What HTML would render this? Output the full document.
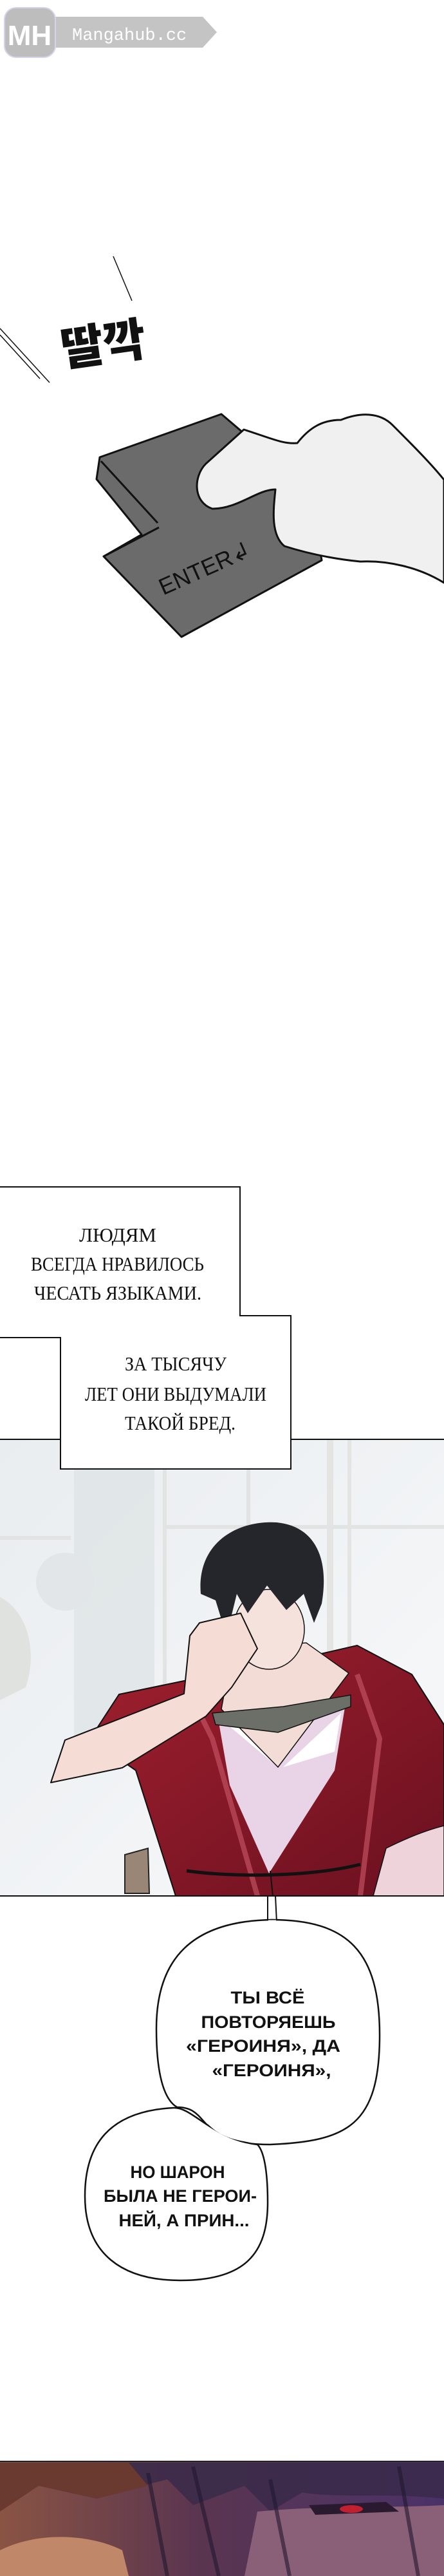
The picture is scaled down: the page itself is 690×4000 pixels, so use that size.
<!DOCTYPE html>
<html><head><meta charset="utf-8"><style>
html,body{margin:0;padding:0;background:#fff;}
svg{display:block;}
.cap{font-family:"Liberation Serif","DejaVu Serif",serif;font-size:31px;fill:#111;}
.bub{font-family:"Liberation Sans","DejaVu Sans",sans-serif;font-weight:bold;font-size:27px;fill:#111;}
</style></head><body>
<svg width="690" height="4000" viewBox="0 0 690 4000" xmlns="http://www.w3.org/2000/svg">
<defs>
<linearGradient id="bg2" x1="0" y1="0" x2="1" y2="1"><stop offset="0" stop-color="#e9edef"/><stop offset="1" stop-color="#f8f9fb"/></linearGradient>
<linearGradient id="bg3" x1="0" y1="0" x2="1" y2="0"><stop offset="0" stop-color="#8a5444"/><stop offset="0.45" stop-color="#5a3550"/><stop offset="1" stop-color="#4a3268"/></linearGradient>
<linearGradient id="robe" x1="0" y1="0" x2="1" y2="1"><stop offset="0" stop-color="#a0202e"/><stop offset="1" stop-color="#6a1020"/></linearGradient>
</defs>
<rect width="690" height="4000" fill="#fff"/>

<!-- logo -->
<path d="M86,26 L315,26 L337,50 L315,74 L86,74 Z" fill="#c4c4c4"/>
<rect x="7" y="12" width="79" height="77" rx="18" fill="#bdbdbd" stroke="#d6d2ee" stroke-width="2"/>
<text x="46" y="70" text-anchor="middle" font-family="Liberation Sans,sans-serif" font-weight="bold" font-size="44" fill="#fff">MH</text>
<text x="112" y="62" font-family="Liberation Mono,monospace" font-size="27" fill="#fff">Mangahub.cc</text>

<!-- sfx -->
<line x1="176" y1="398" x2="205" y2="467" stroke="#111" stroke-width="1.5"/>
<line x1="0" y1="510" x2="77" y2="594" stroke="#111" stroke-width="1.5"/>
<line x1="0" y1="520" x2="62" y2="588" stroke="#111" stroke-width="1.5"/>
<text x="160" y="560" text-anchor="middle" transform="rotate(-8 160 530)" font-family="Noto Sans CJK KR,NanumGothic,sans-serif" font-weight="900" font-size="72" fill="#111">딸깍</text>

<!-- key -->
<path d="M155,710 L344,643 L378,672 L470,700 L500,870 L282,989 L161,864 L220,830 L150,744 Z" fill="#6b6b6b" stroke="#111" stroke-width="3" stroke-linejoin="round"/>
<path d="M157,716 L245,812" stroke="#111" stroke-width="3"/>
<path d="M247,819 L161,864" stroke="#111" stroke-width="3"/>
<text x="317" y="895" text-anchor="middle" transform="rotate(-24 317 880)" font-family="Liberation Sans,sans-serif" font-size="36" fill="#111">ENTER↲</text>
<!-- hand -->
<path d="M379,667 C420,680 440,690 462,688 C480,665 500,652 530,652 C560,640 590,640 610,660 C640,690 670,720 690,745 L690,905 C650,880 600,870 560,872 C520,868 480,860 442,848 C420,830 425,790 428,760 C400,760 370,790 330,790 C300,780 300,740 320,720 Z" fill="#f0f0f0" stroke="#111" stroke-width="3" stroke-linejoin="round"/>

<!-- panel 2 -->
<svg x="0" y="2235" width="690" height="709" viewBox="0 2235 690 709" overflow="hidden">
<rect x="0" y="2235" width="690" height="709" fill="url(#bg2)"/>
<rect x="115" y="2282" width="125" height="440" fill="#dde3e4" opacity="0.7"/>
<rect x="253" y="2282" width="6" height="400" fill="#e2e4e4"/>
<rect x="383" y="2282" width="6" height="400" fill="#e2e4e4"/>
<rect x="508" y="2235" width="10" height="500" fill="#e4e4e2"/>
<rect x="540" y="2235" width="6" height="500" fill="#e4e4e2"/>
<rect x="253" y="2368" width="437" height="6" fill="#e2e4e4"/>
<rect x="0" y="2385" width="110" height="6" fill="#e2e4e4"/>
<circle cx="101" cy="2456" r="45" fill="#e3e6e8"/>
<path d="M0,2480 C40,2500 60,2560 40,2620 L0,2640 Z" fill="#e0e2df"/>
<path d="M194,2880 L230,2870 L232,2940 L194,2940 Z" fill="#9a8676" stroke="#222" stroke-width="2"/>
<path d="M185,2631 L286,2610 L360,2600 L555,2555 L640,2600 L690,2678 L690,2944 L273,2944 L211,2749 L140,2700 Z" fill="url(#robe)" stroke="#111" stroke-width="2"/>
<path d="M300,2640 L330,2700 L400,2944 M555,2600 L590,2700 L560,2944" stroke="#c05060" stroke-width="8" fill="none" opacity="0.7"/>
<path d="M339,2669 L537,2645 L520,2749 L418,2909 L357,2772 Z" fill="#e8d4e6"/>
<path d="M350,2675 L430,2670 L432,2744 Z M440,2744 L530,2660 L520,2720 Z" fill="#fff"/>
<path d="M361,2560 L476,2551 L542,2598 L432,2744 L344,2654 Z" fill="#f3dcd6" stroke="#111" stroke-width="1.5"/>
<path d="M330,2660 L440,2650 L545,2632 L545,2650 L432,2690 L335,2678 Z" fill="#6b6f68" stroke="#111" stroke-width="1.5"/>
<ellipse cx="418" cy="2530" rx="55" ry="62" fill="#f5e2dc" stroke="#111" stroke-width="1.5"/>
<path d="M312,2475 C305,2395 370,2360 430,2364 C490,2370 512,2420 500,2490 L488,2520 L472,2475 L445,2500 L415,2462 L385,2505 L368,2475 L352,2540 L335,2485 Z" fill="#25262c"/>
<path d="M79,2768 L101,2702 L286,2630 L295,2540 L310,2520 L374,2505 L400,2560 L360,2620 L320,2665 L190,2745 Z" fill="#f5ddd6" stroke="#111" stroke-width="2" stroke-linejoin="round"/>
<path d="M600,2870 C640,2850 670,2840 690,2835 L690,2944 L580,2944 Z" fill="#efd3da" stroke="#111" stroke-width="1.5"/>
<path d="M290,2905 C360,2915 480,2915 560,2895" stroke="#111" stroke-width="5" fill="none"/>
<line x1="420" y1="2905" x2="424" y2="2944" stroke="#111" stroke-width="2"/>
</svg>
<line x1="0" y1="2944" x2="690" y2="2944" stroke="#111" stroke-width="2"/>
<line x1="0" y1="2235" x2="690" y2="2235" stroke="#111" stroke-width="2"/>

<!-- caption boxes (on top of panel) -->
<path d="M-2,1843 L373,1843 L373,2043 L452,2043 L452,2281 L94,2281 L94,2077 L-2,2077 Z" fill="#fff" stroke="#111" stroke-width="2"/>
<path d="M-2,2078 L-2,2234 L93,2234 L93,2078 Z" fill="#fff"/>
<path d="M0,2077 L94,2077 L94,2235" fill="none" stroke="#111" stroke-width="2"/>
<text class="cap" x="183" y="1928" text-anchor="middle">ЛЮДЯМ</text>
<text class="cap" x="48" y="1973" textLength="269" lengthAdjust="spacingAndGlyphs">ВСЕГДА НРАВИЛОСЬ</text>
<text class="cap" x="53" y="2018" textLength="260" lengthAdjust="spacingAndGlyphs">ЧЕСАТЬ ЯЗЫКАМИ.</text>
<text class="cap" x="194" y="2128" textLength="158" lengthAdjust="spacingAndGlyphs">ЗА ТЫСЯЧУ</text>
<text class="cap" x="132" y="2175" textLength="282" lengthAdjust="spacingAndGlyphs">ЛЕТ ОНИ ВЫДУМАЛИ</text>
<text class="cap" x="194" y="2220" textLength="172" lengthAdjust="spacingAndGlyphs">ТАКОЙ БРЕД.</text>

<!-- bubbles -->
<path d="M416,2944 L416,2985 M428,2944 L430,2985" stroke="#111" stroke-width="2"/>
<g stroke="#111" stroke-width="2.5" fill="#fff">
<path d="M422,2981 C300,2983 243,3040 243,3150 C243,3230 258,3262 275,3272 C330,3272 300,3330 420,3330 C540,3325 590,3300 590,3160 C590,3030 540,2981 422,2981 Z"/>
<path d="M270,3273 C170,3278 132,3330 132,3410 C132,3500 190,3541 280,3541 C380,3541 416,3500 416,3420 C416,3370 410,3340 400,3330 C330,3322 300,3272 270,3273 Z"/>
</g>
<g fill="#fff">
<path d="M422,2983 C302,2985 245,3040 245,3150 C245,3228 260,3260 276,3270 C330,3270 302,3328 420,3328 C538,3323 588,3298 588,3160 C588,3032 538,2983 422,2983 Z"/>
<path d="M270,3275 C172,3280 134,3330 134,3410 C134,3498 190,3539 280,3539 C378,3539 414,3498 414,3420 C414,3372 408,3342 398,3332 C328,3324 300,3275 270,3275 Z"/>
</g>
<path d="M417,2983 L429,2983" stroke="#fff" stroke-width="3"/>
<text class="bub" x="416" y="3111" text-anchor="middle" textLength="115" lengthAdjust="spacingAndGlyphs">ТЫ ВСЁ</text>
<text class="bub" x="417" y="3149" text-anchor="middle" textLength="209" lengthAdjust="spacingAndGlyphs">ПОВТОРЯЕШЬ</text>
<text class="bub" x="409" y="3186" text-anchor="middle" textLength="240" lengthAdjust="spacingAndGlyphs">«ГЕРОИНЯ», ДА</text>
<text class="bub" x="422" y="3224" text-anchor="middle" textLength="185" lengthAdjust="spacingAndGlyphs">«ГЕРОИНЯ»,</text>
<text class="bub" x="276" y="3382" text-anchor="middle" textLength="147" lengthAdjust="spacingAndGlyphs">НО ШАРОН</text>
<text class="bub" x="280" y="3419" text-anchor="middle" textLength="238" lengthAdjust="spacingAndGlyphs">БЫЛА НЕ ГЕРОИ-</text>
<text class="bub" x="286" y="3457" text-anchor="middle" textLength="203" lengthAdjust="spacingAndGlyphs">НЕЙ, А ПРИН...</text>

<!-- bottom panel -->
<rect x="0" y="3822" width="690" height="178" fill="url(#bg3)"/>
<path d="M0,3824 L690,3824 L690,3880 C600,3870 520,3880 470,3870 L420,3900 L380,3860 L300,3890 L260,3850 L180,3870 L120,3845 L0,3860 Z" fill="#3a2a4a" opacity="0.85"/>
<path d="M0,3824 L200,3824 L230,3860 L150,3880 L60,3860 L0,3900 Z" fill="#6a3a30"/>
<path d="M400,3900 C500,3890 600,3895 690,3890 L690,4000 L380,4000 Z" fill="#8a6078"/>
<path d="M0,3960 C60,3930 140,3935 190,3960 L200,4000 L0,4000 Z" fill="#c08868"/>
<path d="M480,3890 L600,3885 L620,3900 L490,3905 Z" fill="#2a1a30"/>
<ellipse cx="546" cy="3896" rx="18" ry="6" fill="#c02030"/>
<path d="M300,3830 L340,4000 M230,3840 L260,4000 M420,3850 L450,4000 M620,3830 L650,4000" stroke="#221830" stroke-width="6" opacity="0.6"/>
<line x1="0" y1="3822" x2="690" y2="3822" stroke="#222" stroke-width="2"/>
</svg>
</body></html>
